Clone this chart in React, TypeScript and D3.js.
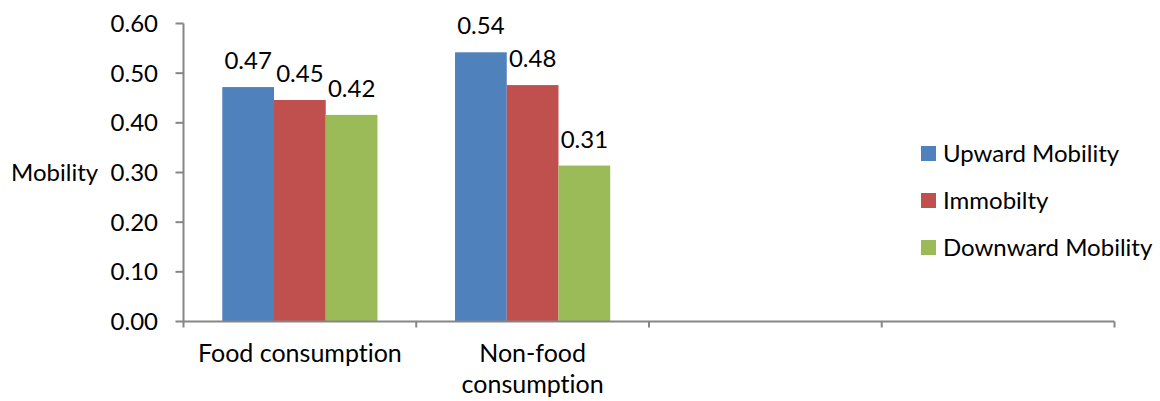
import React from "react";
import * as d3 from "d3";

const categories = ["Food consumption", "Non-food\nconsumption", "", " "];
const seriesNames = ["Upward Mobility", "Immobilty", "Downward Mobility"];
const upward = [0.472, 0.542];
const immobility = [0.446, 0.476];
const downward = [0.416, 0.314];
const yTicks = [0, 0.1, 0.2, 0.3, 0.4, 0.5, 0.6];
const colors = ["#4F81BD", "#C0504D", "#9BBB59"];

const W = 1160;
const H = 401;
const FONT = "Lato, 'Open Sans', sans-serif";
const FS = 24;
const AXIS = "#868686";

export default function App() {
  const left = 183.5;
  const right = 1114.5;
  const bottom = 321.5;
  const top = 23.5;

  const x0 = d3.scaleBand<string>().domain(categories).range([left, right]).padding(0);
  const x1 = d3
    .scaleBand<string>()
    .domain(seriesNames)
    .range([0, x0.bandwidth()])
    .paddingInner(0)
    .paddingOuter(0.75);
  const y = d3.scaleLinear().domain([0, 0.6]).range([bottom, top]);

  const seriesValues = [upward, immobility, downward];
  const fmt = (v: number) => v.toFixed(2);

  const boundaries = [...categories.map((c) => x0(c) as number), right];

  return (
    <svg
      width={W}
      height={H}
      style={{
        position: "absolute",
        left: 0,
        top: 0,
        background: "#fff",
        fontVariantLigatures: "none",
        fontFeatureSettings: '"liga" 0, "clig" 0',
      }}
      fontFamily={FONT}
    >
      {/* bars */}
      {seriesNames.map((s, si) =>
        seriesValues[si].map((v, ci) => {
          const cx = (x0(categories[ci]) as number) + (x1(s) as number);
          return (
            <rect
              key={s + ci}
              x={cx}
              y={y(v)}
              width={x1.bandwidth()}
              height={bottom - y(v)}
              fill={colors[si]}
            />
          );
        })
      )}
      {/* data labels */}
      {seriesNames.map((s, si) =>
        seriesValues[si].map((v, ci) => {
          const cx = (x0(categories[ci]) as number) + (x1(s) as number) + x1.bandwidth() / 2;
          return (
            <text
              key={"l" + s + ci}
              x={cx}
              y={y(v) - 18}
              textAnchor="middle"
              fontSize={FS}
              fill="#000"
            >
              {fmt(v)}
            </text>
          );
        })
      )}
      {/* y axis */}
      <line x1={left} x2={left} y1={top} y2={bottom} stroke={AXIS} strokeWidth={2} />
      {yTicks.map((t) => (
        <g key={t}>
          <line x1={left - 8} x2={left} y1={y(t)} y2={y(t)} stroke={AXIS} strokeWidth={2} />
          <text
            x={158}
            y={y(t)}
            dy="0.36em"
            textAnchor="end"
            fontSize={FS}
            fill="#000"
          >
            {t.toFixed(2)}
          </text>
        </g>
      ))}
      {/* x axis */}
      <line x1={left} x2={right} y1={bottom} y2={bottom} stroke={AXIS} strokeWidth={2} />
      {boundaries.map((b, i) => (
        <line key={i} x1={b} x2={b} y1={bottom} y2={bottom + 6} stroke={AXIS} strokeWidth={2} />
      ))}
      {categories.map((c) => {
        const cx = (x0(c) as number) + x0.bandwidth() / 2;
        const lines = c.trim() === "" ? [] : c.split("\n");
        return (
          <text key={"c" + c} textAnchor="middle" fontSize={25} fill="#000">
            {lines.map((ln, i) => (
              <tspan key={i} x={cx} y={362 + i * 31}>
                {ln}
              </tspan>
            ))}
          </text>
        );
      })}
      {/* y title */}
      <text x={11} y={172} dy="0.36em" fontSize={FS} fill="#000">
        Mobility
      </text>
      {/* legend */}
      {seriesNames.map((s, i) => (
        <g key={"lg" + s} transform={`translate(921, ${146 + i * 47})`}>
          <rect x={0} y={0} width={15} height={15} fill={colors[i]} />
          <text x={22} y={7.5} dy="0.36em" fontSize={FS} fill="#000">
            {s}
          </text>
        </g>
      ))}
    </svg>
  );
}
